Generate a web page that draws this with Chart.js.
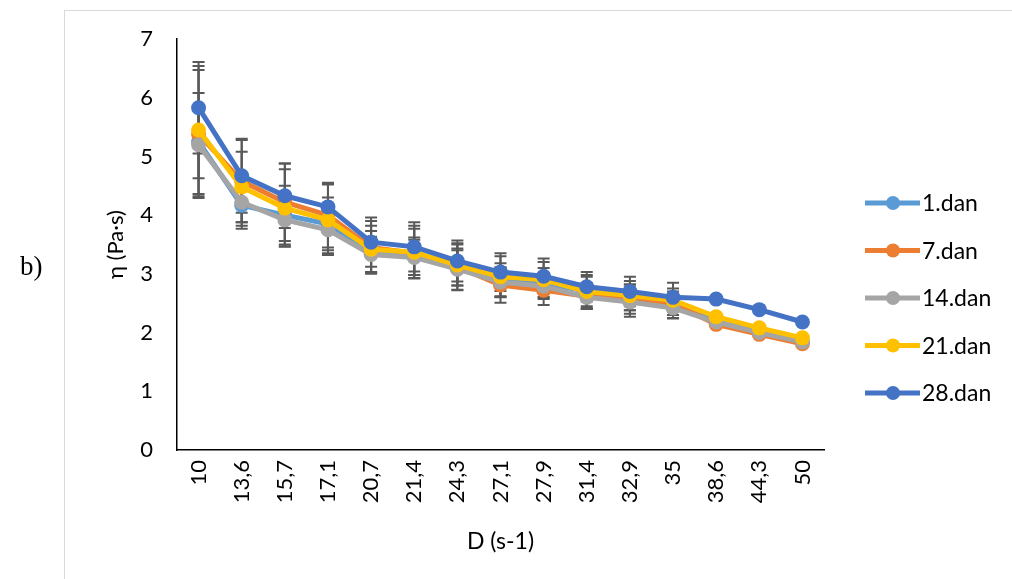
<!DOCTYPE html>
<html>
<head>
<meta charset="utf-8">
<script src="https://cdn.jsdelivr.net/npm/chart.js@4"></script>
<style>
  html, body { margin: 0; padding: 0; background: #fff; }
  #wrap { position: relative; width: 1012px; height: 579px; }
  #oznaka { position: absolute; left: 20px; top: 251px; font-family: "Liberation Serif", serif; font-size: 27px; color: #000; }
</style>
</head>
<body>
<div id="wrap">
  <canvas id="viskozitet" width="1012" height="579"></canvas>
  <div id="oznaka">b)</div>
</div>
<script>
const brzine = ['10', '13,6', '15,7', '17,1', '20,7', '21,4', '24,3', '27,1', '27,9', '31,4', '32,9', '35', '38,6', '44,3', '50'];
const dani = ['1.dan', '7.dan', '14.dan', '21.dan', '28.dan'];
const boje = ['#5B9BD5', '#ED7D31', '#A5A5A5', '#FFC000', '#4472C4'];

const dan1  = [5.25, 4.17, 4.00, 3.85, 3.38, 3.30, 3.10, 2.90, 2.85, 2.70, 2.60, 2.45, 2.20, 2.02, 1.85];
const dan7  = [5.38, 4.58, 4.22, 4.00, 3.45, 3.35, 3.12, 2.81, 2.72, 2.62, 2.57, 2.50, 2.14, 1.97, 1.81];
const dan14 = [5.20, 4.22, 3.92, 3.75, 3.33, 3.28, 3.08, 2.86, 2.79, 2.60, 2.52, 2.42, 2.18, 2.00, 1.84];
const dan21 = [5.45, 4.48, 4.12, 3.92, 3.42, 3.37, 3.15, 2.95, 2.90, 2.70, 2.63, 2.55, 2.27, 2.08, 1.91];
const dan28 = [5.83, 4.67, 4.33, 4.14, 3.54, 3.46, 3.22, 3.03, 2.96, 2.78, 2.70, 2.60, 2.57, 2.39, 2.18];

// standardne devijacije (nema ih za zadnje tri brzine)
const sd1  = [0.62, 0.40, 0.50, 0.45, 0.35, 0.32, 0.30, 0.28, 0.25, 0.25, 0.22, 0.20, null, null, null];
const sd7  = [1.09, 0.70, 0.66, 0.55, 0.45, 0.42, 0.40, 0.30, 0.25, 0.22, 0.25, 0.20, null, null, null];
const sd14 = [0.88, 0.40, 0.45, 0.40, 0.30, 0.30, 0.35, 0.25, 0.22, 0.20, 0.25, 0.18, null, null, null];
const sd21 = [1.09, 0.60, 0.66, 0.60, 0.40, 0.45, 0.35, 0.35, 0.30, 0.28, 0.25, 0.20, null, null, null];
const sd28 = [0.78, 0.63, 0.55, 0.40, 0.42, 0.42, 0.35, 0.32, 0.30, 0.25, 0.25, 0.25, null, null, null];

const vrijednosti = [dan1, dan7, dan14, dan21, dan28];
const greske = [sd1, sd7, sd14, sd21, sd28];

const FONT = 'Lato, "Open Sans", sans-serif';

// okvir oko cijelog grafa
const okvirPlugin = {
    id: 'okvir',
    beforeDraw(chart) {
        const ctx = chart.ctx;
        ctx.save();
        ctx.strokeStyle = '#d9d9d9';
        ctx.lineWidth = 1;
        ctx.strokeRect(64.5, 10.5, 1000, 600);
        ctx.restore();
    }
};

// error bars
const greskePlugin = {
    id: 'greske',
    beforeDatasetsDraw(chart) {
        const ctx = chart.ctx;
        const x = chart.scales.x;
        const y = chart.scales.y;
        ctx.save();
        ctx.strokeStyle = '#595959';
        ctx.lineWidth = 2;
        greske.forEach((sd, s) => {
            sd.forEach((e, i) => {
                if (e === null) return;
                const v = vrijednosti[s][i];
                const px = x.getPixelForValue(i);
                const gore = y.getPixelForValue(v + e);
                const dolje = y.getPixelForValue(v - e);
                ctx.beginPath();
                ctx.moveTo(px, gore); ctx.lineTo(px, dolje);
                ctx.moveTo(px - 6, gore); ctx.lineTo(px + 6, gore);
                ctx.moveTo(px - 6, dolje); ctx.lineTo(px + 6, dolje);
                ctx.stroke();
            });
        });
        ctx.restore();
    }
};

// legenda desno, linija + kruzic kao u Excelu
const legendaPlugin = {
    id: 'legenda',
    afterDraw(chart) {
        const ctx = chart.ctx;
        const area = chart.chartArea;
        ctx.save();
        ctx.font = '23px ' + FONT;
        ctx.textBaseline = 'middle';
        dani.forEach((d, i) => {
            const yy = area.top + 164 + i * 47.5;
            const x0 = area.right + 41;
            ctx.strokeStyle = boje[i];
            ctx.lineWidth = 5;
            ctx.beginPath();
            ctx.moveTo(x0, yy); ctx.lineTo(x0 + 55, yy);
            ctx.stroke();
            ctx.fillStyle = boje[i];
            ctx.beginPath();
            ctx.arc(x0 + 28, yy, 7, 0, Math.PI * 2);
            ctx.fill();
            ctx.fillStyle = '#000';
            ctx.fillText(d, x0 + 57, yy + 1);
        });
        ctx.restore();
    }
};

const skupovi = dani.map((d, i) => ({
    label: d,
    data: vrijednosti[i],
    borderColor: boje[i],
    backgroundColor: boje[i],
    pointBackgroundColor: boje[i],
    pointBorderColor: boje[i],
    borderWidth: 5,
    pointRadius: 7.5,
    pointBorderWidth: 0,
    tension: 0,
    clip: false,
    order: dani.length - i
}));

new Chart(document.getElementById('viskozitet').getContext('2d'), {
    type: 'line',
    data: { labels: brzine, datasets: skupovi },
    plugins: [okvirPlugin, greskePlugin, legendaPlugin],
    options: {
        responsive: false,
        animation: false,
        layout: { padding: { left: 100, right: 188, top: 39, bottom: 18 } },
        plugins: { legend: { display: false }, tooltip: { enabled: false } },
        scales: {
            x: {
                offset: true,
                grid: { display: false, drawTicks: false, offset: true },
                border: { display: true, color: '#000', width: 1.5 },
                ticks: { color: '#000', font: { family: FONT, size: 22 }, minRotation: 90, maxRotation: 90, padding: 10 },
                title: { display: true, text: 'D (s-1)', color: '#000', font: { family: FONT, size: 23 }, padding: { top: 0, bottom: 6 } },
                afterFit(scale) { scale.height = 579 - 18 - 450; }
            },
            y: {
                min: 0,
                max: 7,
                grid: { display: false, drawTicks: false },
                border: { display: true, color: '#000', width: 1.5 },
                ticks: { stepSize: 1, color: '#000', font: { family: FONT, size: 22 }, padding: 24 },
                title: { display: true, text: 'η (Pa·s)', color: '#000', font: { family: FONT, size: 22 }, padding: { top: 3, bottom: 0 } },
                afterFit(scale) { scale.width = 177 - 100; }
            }
        }
    }
});
</script>
</body>
</html>
